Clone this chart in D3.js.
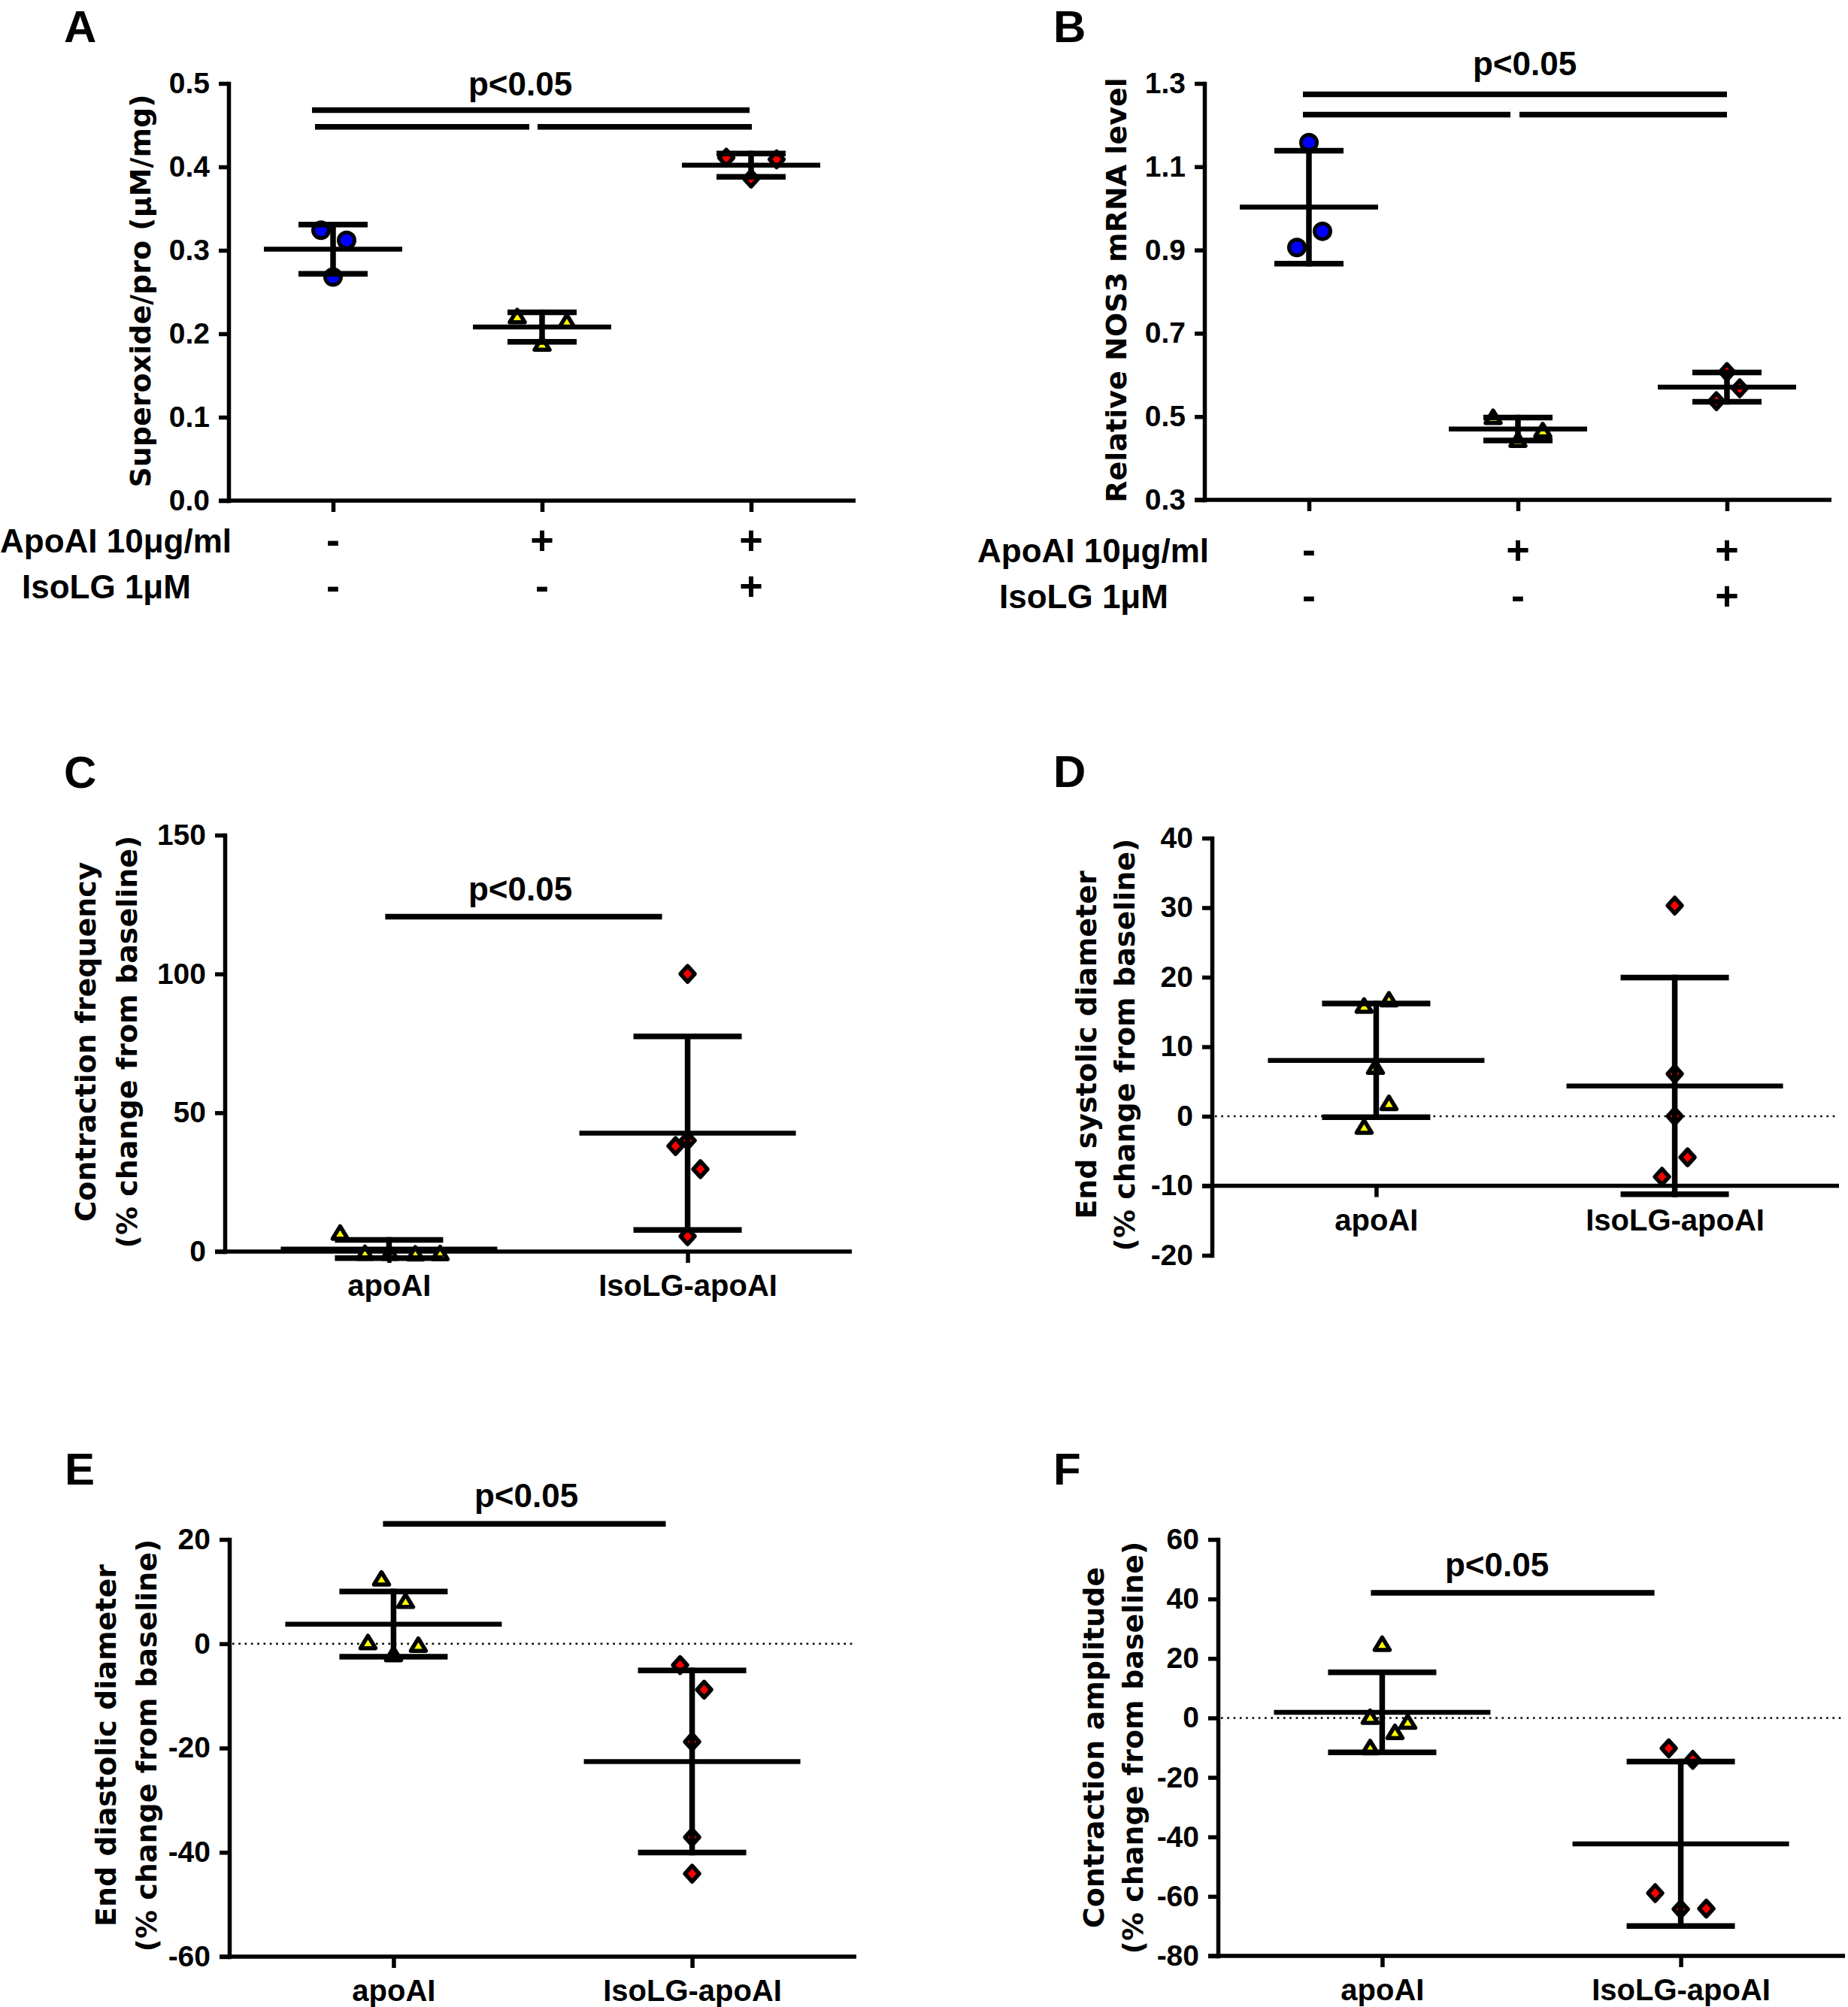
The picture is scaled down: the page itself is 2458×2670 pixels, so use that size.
<!DOCTYPE html>
<html><head><meta charset="utf-8">
<script src="https://cdn.jsdelivr.net/npm/d3@7"></script>
<style>
html,body{margin:0;padding:0;background:#fff;}
svg{display:block;}
</style></head><body>
<svg id="chart" width="2458" height="2670"></svg>
<script>
// ================= DATA =================
const groupsAB = ["control", "apoAI", "IsoLG-apoAI"];
const rowApoAI = ["-", "+", "+"];
const rowIsoLG = ["-", "-", "+"];
const rowLabelApoAI = "ApoAI 10μg/ml";
const rowLabelIsoLG = "IsoLG 1μM";

const superoxideControl = [0.324, 0.312, 0.268];
const superoxideApoAI   = [0.221, 0.215, 0.188];
const superoxideIsoLG   = [0.411, 0.409, 0.386];

const nos3Control = [1.158, 0.945, 0.906];
const nos3ApoAI   = [0.499, 0.467, 0.444];
const nos3IsoLG   = [0.607, 0.568, 0.537];

const groupsCF = ["apoAI", "IsoLG-apoAI"];

const freqApoAI = [6.8, -0.5, -0.5, -0.7, -0.6];
const freqIsoLG = [100, 38, 40, 29.7, 5.5];

const esdApoAI = [15.9, 16.8, 7.1, 1.9, -1.5];
const esdIsoLG = [30.3, 6.1, 0, -5.9, -8.7];

const eddApoAI = [12.5, 8.2, 0.3, -0.2, -2.0];
const eddIsoLG = [-4.1, -8.8, -18.8, -37.1, -44.1];

const ampApoAI = [24.9, 0.35, -1.3, -4.75, -9.85];
const ampIsoLG = [-10.2, -14.1, -58.9, -64.3, -64.1];

const ticksA = [0, 0.1, 0.2, 0.3, 0.4, 0.5];
const ticksB = [0.3, 0.5, 0.7, 0.9, 1.1, 1.3];
const ticksC = [0, 50, 100, 150];
const ticksD = [-20, -10, 0, 10, 20, 30, 40];
const ticksE = [-60, -40, -20, 0, 20];
const ticksF = [-80, -60, -40, -20, 0, 20, 40, 60];

const titleA = ["Superoxide/pro (μM/mg)"];
const titleB = ["Relative NOS3 mRNA level"];
const titleC = ["Contraction frequency", "(% change from baseline)"];
const titleD = ["End systolic diameter", "(% change from baseline)"];
const titleE = ["End diastolic diameter", "(% change from baseline)"];
const titleF = ["Contraction amplitude", "(% change from baseline)"];

const sigLabel = "p<0.05";

// ================= LAYOUT / STYLE =================
const FONT = "'Liberation Sans', Arial, sans-serif";
const TITLE_FONT = "'DejaVu Sans', Verdana, sans-serif";
const COLORS = {circle: "#0000ff", triangle: "#ffff00", diamond: "#ff0000"};

const panels = [
  { letter: "A", groups: groupsAB, series: [superoxideControl, superoxideApoAI, superoxideIsoLG],
    shapes: ["circle", "triangle", "diamond"], domain: [0, 0.5], ticks: ticksA, fmt: d => d.toFixed(1),
    base: 0, zeroLine: false, title: titleA, rows: true,
    L: { axisX: 304, top: 111, bottom: 666, width: 834, pad: 0.5, meanHalf: 92, capHalf: 46,
         letterPos: [85, 56], titleX: [200], titleY: 387, sigText: [692, 127],
         rowBase: [735, 796], rowLabelX: [0, 29],
         jitter: [[-16, 18, 0], [-33, 33, 0], [-33, 34, 0]],
         sigLines: [ {v: 0.468, from: [0, -28], to: [2, -2]},
                     {v: 0.448, from: [0, -24], to: [1, -17]},
                     {v: 0.448, from: [1, -6], to: [2, 1]} ] } },
  { letter: "B", groups: groupsAB, series: [nos3Control, nos3ApoAI, nos3IsoLG],
    shapes: ["circle", "triangle", "diamond"], domain: [0.3, 1.3], ticks: ticksB, fmt: d => d.toFixed(1),
    base: 0.3, zeroLine: false, title: titleB, rows: true,
    L: { axisX: 1602, top: 111, bottom: 665, width: 834, pad: 0.5, meanHalf: 92, capHalf: 46,
         letterPos: [1401, 56], titleX: [1498], titleY: 386, sigText: [2028, 100],
         rowBase: [748, 809], rowLabelX: [1300, 1329],
         jitter: [[0, 18, -16], [-33, 33, 0], [0, 17, -14]],
         sigLines: [ {v: 1.274, from: [0, -8], to: [2, 0]},
                     {v: 1.225, from: [0, -8], to: [1, -10]},
                     {v: 1.225, from: [1, 2], to: [2, 0]} ] } },
  { letter: "C", groups: groupsCF, series: [freqApoAI, freqIsoLG],
    shapes: ["triangle", "diamond"], domain: [0, 150], ticks: ticksC, fmt: d => String(d),
    base: 0, zeroLine: false, title: titleC, rows: false,
    L: { axisX: 299, top: 1111, bottom: 1665, width: 834, pad: 0.55, meanHalf: 144, capHalf: 72,
         letterPos: [85, 1048], titleX: [127, 182], titleY: 1386, sigText: [692, 1198],
         jitter: [[-65, -32, 1, 35, 68], [0, -16, 0, 17, 0]],
         sigLines: [ {v: 120.6, from: [0, -5], to: [1, -34]} ] } },
  { letter: "D", groups: groupsCF, series: [esdApoAI, esdIsoLG],
    shapes: ["triangle", "diamond"], domain: [-20, 40], ticks: ticksD, fmt: d => String(d),
    base: -10, zeroLine: true, title: titleD, rows: false,
    L: { axisX: 1612, top: 1115, bottom: 1670, width: 834, pad: 0.55, meanHalf: 144, capHalf: 72,
         letterPos: [1401, 1047], titleX: [1458, 1509], titleY: 1390, sigText: null,
         jitter: [[-16, 17, -1, 17, -16], [0, 0, 0, 17, -17]],
         sigLines: [] } },
  { letter: "E", groups: groupsCF, series: [eddApoAI, eddIsoLG],
    shapes: ["triangle", "diamond"], domain: [-60, 20], ticks: ticksE, fmt: d => String(d),
    base: -60, zeroLine: true, title: titleE, rows: false,
    L: { axisX: 305, top: 2048, bottom: 2603, width: 834, pad: 0.55, meanHalf: 144, capHalf: 72,
         letterPos: [86, 1975], titleX: [154, 208], titleY: 2322, sigText: [700, 2005],
         jitter: [[-16, 16, -34, 33, 0], [-16, 16, 0, 0, 0]],
         sigLines: [ {v: 23.0, from: [0, -14], to: [1, -35]} ] } },
  { letter: "F", groups: groupsCF, series: [ampApoAI, ampIsoLG],
    shapes: ["triangle", "diamond"], domain: [-80, 60], ticks: ticksF, fmt: d => String(d),
    base: -80, zeroLine: true, title: titleF, rows: false,
    L: { axisX: 1620, top: 2048, bottom: 2602, width: 834, pad: 0.55, meanHalf: 144, capHalf: 72,
         letterPos: [1401, 1975], titleX: [1468, 1520], titleY: 2325, sigText: [1991, 2097],
         jitter: [[0, -16, 34, 17, -16], [-16, 16, -34, 0, 34]],
         sigLines: [ {v: 42.06, from: [0, -15], to: [1, -35]} ] } }
];

// ================= DRAW =================
const svg = d3.select("#chart");
svg.append("rect").attr("width", 2458).attr("height", 2670).attr("fill", "#fff");

function drawMarker(g, shape, cx, cy) {
  if (shape === "circle") {
    g.append("circle").attr("cx", cx).attr("cy", cy).attr("r", 10.5)
      .attr("fill", COLORS.circle).attr("stroke", "#000").attr("stroke-width", 5);
  } else if (shape === "triangle") {
    g.append("path").attr("transform", `translate(${cx},${cy})`)
      .attr("d", "M0,-8.5L10,8L-10,8Z")
      .attr("fill", COLORS.triangle).attr("stroke", "#000").attr("stroke-width", 5.5)
      .attr("stroke-linejoin", "round");
  } else {
    g.append("path").attr("transform", `translate(${cx},${cy})`)
      .attr("d", "M0,-10.5L9.5,0L0,10.5L-9.5,0Z")
      .attr("fill", COLORS.diamond).attr("stroke", "#000").attr("stroke-width", 5.5)
      .attr("stroke-linejoin", "round");
  }
}

function hline(g, x1, x2, yv, w) {
  g.append("line").attr("x1", x1).attr("x2", x2).attr("y1", yv).attr("y2", yv)
    .attr("stroke", "#000").attr("stroke-width", w);
}
function vline(g, xv, y1, y2, w) {
  g.append("line").attr("x1", xv).attr("x2", xv).attr("y1", y1).attr("y2", y2)
    .attr("stroke", "#000").attr("stroke-width", w);
}

panels.forEach(p => {
  const L = p.L;
  const g = svg.append("g");
  const y = d3.scaleLinear().domain(p.domain).range([L.bottom, L.top]);
  const x = d3.scalePoint().domain(p.groups).range([L.axisX, L.axisX + L.width]).padding(L.pad);
  const baseY = y(p.base);

  // panel letter
  g.append("text").attr("x", L.letterPos[0]).attr("y", L.letterPos[1])
    .style("font-family", FONT).style("font-weight", "bold").style("font-size", "60px")
    .text(p.letter);

  // zero dotted line
  if (p.zeroLine) {
    g.append("line").attr("x1", L.axisX + 4).attr("x2", L.axisX + L.width)
      .attr("y1", y(0)).attr("y2", y(0))
      .attr("stroke", "#000").attr("stroke-width", 2.6).attr("stroke-dasharray", "2.6,5.7");
  }

  // y axis
  const yAxis = d3.axisLeft(y).tickValues(p.ticks).tickFormat(p.fmt)
    .tickSize(13).tickPadding(12).tickSizeOuter(0);
  const ya = g.append("g").attr("transform", `translate(${L.axisX},0)`).call(yAxis);
  ya.select(".domain").attr("stroke", "#000").attr("stroke-width", 5.5).attr("stroke-linecap", "square");
  ya.selectAll(".tick line").attr("stroke", "#000").attr("stroke-width", 5.5);
  ya.selectAll(".tick text").attr("fill", "#000")
    .style("font-family", FONT).style("font-weight", "bold").style("font-size", "39px");

  // x axis
  hline(g, L.axisX - 13, L.axisX + L.width, baseY, 5.5);
  const xAxis = d3.axisBottom(x).tickSize(15).tickPadding(16).tickSizeOuter(0)
    .tickFormat(p.rows ? (() => "") : (d => d));
  const xa = g.append("g").attr("transform", `translate(0,${baseY})`).call(xAxis);
  xa.select(".domain").remove();
  xa.selectAll(".tick line").attr("stroke", "#000").attr("stroke-width", 5.5);
  xa.selectAll(".tick text").attr("fill", "#000")
    .style("font-family", FONT).style("font-weight", "bold").style("font-size", "40px");

  // markers
  p.series.forEach((vals, gi) => {
    const cx = x(p.groups[gi]);
    vals.forEach((v, i) => drawMarker(g, p.shapes[gi], cx + L.jitter[gi][i], y(v)));
  });

  // mean & SD
  p.series.forEach((vals, gi) => {
    const cx = x(p.groups[gi]);
    const m = d3.mean(vals), sd = d3.deviation(vals);
    vline(g, cx, y(m - sd) + 3.75, y(m + sd) - 3.75, 7.5);
    hline(g, cx - L.capHalf, cx + L.capHalf, y(m + sd), 7.5);
    hline(g, cx - L.capHalf, cx + L.capHalf, y(m - sd), 7.5);
    hline(g, cx - L.meanHalf, cx + L.meanHalf, y(m), 6.5);
  });

  // significance
  L.sigLines.forEach(s => {
    const x1 = x(p.groups[s.from[0]]) + s.from[1];
    const x2 = x(p.groups[s.to[0]]) + s.to[1];
    hline(g, x1, x2, y(s.v), 7.5);
  });
  if (L.sigText) {
    g.append("text").attr("x", L.sigText[0]).attr("y", L.sigText[1]).attr("text-anchor", "middle")
      .style("font-family", FONT).style("font-weight", "bold").style("font-size", "44px")
      .text(sigLabel);
  }

  // y title
  p.title.forEach((t, i) => {
    g.append("text")
      .attr("transform", `translate(${L.titleX[i]},${L.titleY}) rotate(-90)`)
      .attr("text-anchor", "middle")
      .style("font-family", TITLE_FONT).style("font-weight", "bold").style("font-size", "38px")
      .text(t);
  });

  // rows of +/- for A & B
  if (p.rows) {
    const rows = [[rowLabelApoAI, rowApoAI], [rowLabelIsoLG, rowIsoLG]];
    rows.forEach(([label, signs], ri) => {
      g.append("text").attr("x", L.rowLabelX[ri]).attr("y", L.rowBase[ri])
        .style("font-family", FONT).style("font-weight", "bold").style("font-size", "44px")
        .text(label);
      signs.forEach((s, gi) => {
        g.append("text").attr("x", x(p.groups[gi])).attr("y", L.rowBase[ri] + 2)
          .attr("text-anchor", "middle")
          .style("font-family", FONT).style("font-weight", "bold").style("font-size", "54px")
          .text(s);
      });
    });
  }
});
</script>
</body></html>
